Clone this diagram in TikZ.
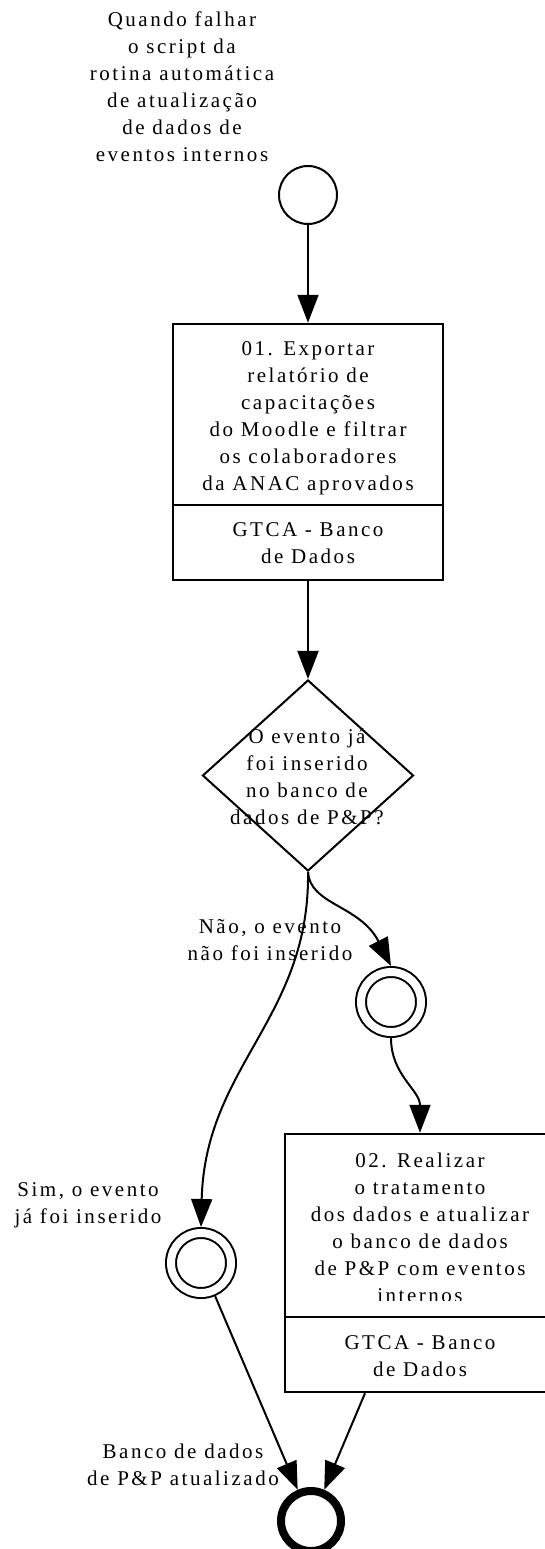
\documentclass[tikz,border=0pt]{standalone}
\usepackage{fontspec}
\setmainfont{Liberation Serif}[LetterSpace=12]
\usetikzlibrary{arrows.meta,shapes.geometric}
\begin{document}
\begin{tikzpicture}[x=1pt,y=-1pt,
  txt/.style={font=\fontsize{21}{27}\selectfont, align=center, inner sep=0pt},
  conn/.style={line width=2pt, -{Triangle[length=28pt,width=21pt]}},
  taskbox/.style={draw, line width=2.5pt, minimum width=270pt, minimum height=256pt, inner sep=0pt},
  divline/.style={line width=2.5pt},
  startev/.style={draw, circle, line width=2pt, minimum size=58pt, inner sep=0pt},
  midev/.style={draw, circle, line width=2pt, double, double distance=8pt, minimum size=60pt, inner sep=0pt, outer sep=6pt},
  endev/.style={draw, circle, line width=8pt, minimum size=60pt, inner sep=0pt},
  gateway/.style={draw, diamond, line width=2pt, minimum width=211pt, minimum height=191pt, inner sep=0pt}
]
\useasboundingbox (0,0) rectangle (544,1549);

% start event
\node[startev] (s) at (308,195) {};
\node[txt] (lblstart) at (182,87) {Quando falhar\\o script da\\rotina automática\\de atualização\\de dados de\\eventos internos};

% task 1
\node[taskbox] (t1) at (308,452) {};
\coordinate (d1) at (0,505);
\draw[divline] (t1.west |- d1) -- (t1.east |- d1);
\node[txt] (t1txt) at (308,418) {01. Exportar\\relatório de\\capacitações\\do Moodle e filtrar\\os colaboradores\\da ANAC aprovados};
\node[txt] (t1lane) at (308,543.5) {GTCA - Banco\\de Dados};

% gateway
\node[gateway] (dec) at (308,775.5) {};
\node[txt] (dectxt) at (307,776.5) {O evento já\\foi inserido\\no banco de\\dados de P\&P?};

% intermediate events
\node[midev] (A) at (391,1002) {};
\node[midev] (B) at (201,1263) {};

% task 2
\node[taskbox, minimum height=258pt] (t2) at (420,1263) {};
\coordinate (d2) at (0,1317);
\draw[divline] (t2.west |- d2) -- (t2.east |- d2);
\begin{scope}
\clip (285,1134) rectangle (555,1300.3);
\node[txt] (t2txt) at (420,1228) {02. Realizar\\o tratamento\\dos dados e atualizar\\o banco de dados\\de P\&P com eventos\\internos};
\end{scope}
\node[txt] (t2lane) at (420,1356.5) {GTCA - Banco\\de Dados};

% end event
\node[endev] (E) at (311,1521) {};

% labels
\node[txt] (lblnao) at (270,940) {Não, o evento\\não foi inserido};
\node[txt] (lblsim) at (88,1205) {Sim, o evento\\já foi inserido};
\node[txt] (lblend) at (183,1465) {Banco de dados\\de P\&P atualizado};

% connectors
\draw[conn] (s) -- (t1);
\draw[conn] (t1) -- (dec);
\draw[conn] (dec.south) .. controls (310,1018) and (205,1066) .. (B.north);
\draw[conn] (dec.south) .. controls (310,905) and (360,905) .. (A.north);
\draw[conn] (A.south) .. controls (391,1075) and (420,1090) .. (t2.north);
\draw[conn] (B) -- (E);
\draw[conn] (t2) -- (E);
\end{tikzpicture}
\end{document}
